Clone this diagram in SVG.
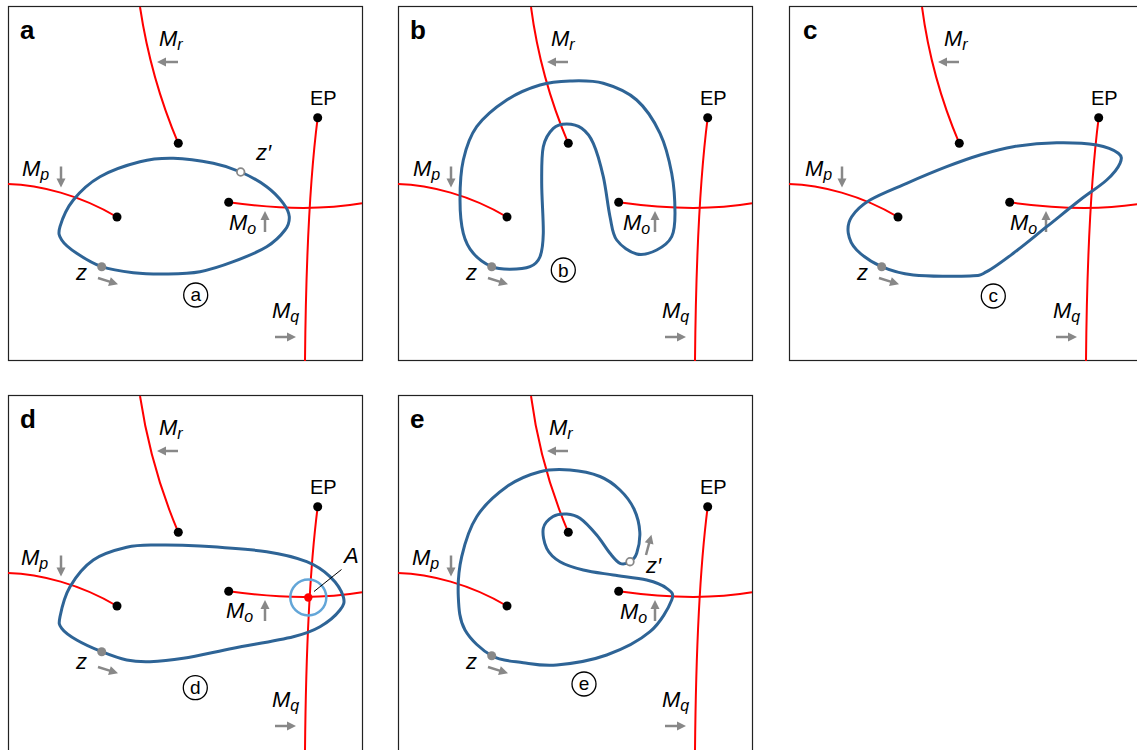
<svg xmlns="http://www.w3.org/2000/svg" xmlns:xlink="http://www.w3.org/1999/xlink" width="1137" height="750" viewBox="0 0 1137 750">
<style>
.frame{fill:none;stroke:#222;stroke-width:1.2}
.red{fill:none;stroke:#ff0000;stroke-width:2}
.loop{fill:none;stroke:#2e6496;stroke-width:3}
.dot{fill:#000}
.gdot{fill:#888}
.hdot{fill:#fff;stroke:#888;stroke-width:1.8}
.lbl{font-family:"Liberation Sans",Arial,sans-serif;font-size:22px;font-style:italic;fill:#000}
.sub{font-size:16px}
.ep{font-family:"Liberation Sans",Arial,sans-serif;font-size:20px;fill:#000}
.pl{font-family:"Liberation Sans",Arial,sans-serif;font-weight:bold;font-size:26px;fill:#000}
.circ{fill:none;stroke:#000;stroke-width:1.3}
.ct{font-family:"Liberation Sans",Arial,sans-serif;font-size:19px;text-anchor:middle;fill:#000}
.arr line{stroke:#888;stroke-width:2.5}
.arr path{fill:#888}
</style>
<defs>
<g id="arr" class="arr"><line x1="0" y1="0" x2="13" y2="0"/><path d="M12,-4.5 L21,0 L12,4.5 Z"/></g>
</defs>
<rect width="1137" height="750" fill="#fff"/>

<!-- Panel a -->
<g id="panel-a">
 <g id="a-base">
  <rect class="frame" x="8.5" y="6.5" width="354" height="354"/>
  <g id="a-curves">
   <path class="red" d="M140,7 C148,60 162,105 178.3,143.3"/>
   <path class="red" d="M8,184 C40,185 80,195 117,217"/>
   <path class="red" d="M228.7,202.3 Q305,213 362,203.3"/>
   <path class="red" d="M317.7,117.7 C311,170 306,250 305,361"/>
  </g>
  <text class="pl" x="20" y="39">a</text>
  <text class="lbl" x="159" y="46">M<tspan class="sub" dy="4">r</tspan></text>
  <text class="ep" x="310" y="105">EP</text>
  <text class="lbl" x="22" y="176">M<tspan class="sub" dy="4">p</tspan></text>
  <text class="lbl" x="229" y="230">M<tspan class="sub" dy="4">o</tspan></text>
  <text class="lbl" x="272" y="318">M<tspan class="sub" dy="4">q</tspan></text>
  <text class="lbl" x="76" y="280">z</text>
  <use xlink:href="#arr" transform="translate(178,62) rotate(180)"/>
  <use xlink:href="#arr" transform="translate(61,166.5) rotate(90)"/>
  <use xlink:href="#arr" transform="translate(265,232) rotate(-90)"/>
  <use xlink:href="#arr" transform="translate(98,278) rotate(17.5)"/>
  <use xlink:href="#arr" transform="translate(275,337)"/>
 </g>
 <path class="loop" d="M60,226.7 C61.93,220.03 66.63,208.33 73.3,200 C79.97,191.67 88.9,183.09 100,176.7 C111.1,170.31 127.8,164.77 140,161.7 C152.2,158.63 161.1,158.03 173.3,158.3 C185.5,158.57 202.1,161.02 213.3,163.3 C224.5,165.58 231.8,168.1 240.7,172 C249.6,175.9 259.6,181.48 266.7,186.7 C273.8,191.92 279.53,198.3 283.3,203.3 C287.07,208.3 289.02,212.25 289.3,216.7 C289.58,221.15 288.77,225 285,230 C281.23,235 275.32,241.42 266.7,246.7 C258.08,251.98 244.4,257.53 233.3,261.7 C222.2,265.87 211.1,269.65 200,271.7 C188.9,273.75 177.8,273.83 166.7,274 C155.6,274.17 144.1,273.92 133.3,272.7 C122.5,271.48 111.13,269.93 101.7,266.7 C92.27,263.47 83.37,257.75 76.7,253.3 C70.03,248.85 64.48,244.43 61.7,240 C58.92,235.57 58.07,233.37 60,226.7 Z"/>
 <circle class="dot" cx="178.3" cy="143.3" r="4.5"/>
 <circle class="dot" cx="117" cy="217" r="4.5"/>
 <circle class="dot" cx="228.7" cy="202.3" r="4.5"/>
 <circle class="dot" cx="317.7" cy="117.7" r="4.5"/>
 <circle class="gdot" cx="101.7" cy="266.7" r="4.5"/>
 <circle class="hdot" cx="240.7" cy="172" r="3.8"/>
 <text class="lbl" x="256" y="160">z′</text>
 <circle class="circ" cx="195.7" cy="295" r="12"/>
 <text class="ct" x="195.7" y="300.5">a</text>
</g>

<!-- Panel b -->
<g id="panel-b">
 <g id="b-base" transform="translate(390,0)">
  <rect class="frame" x="8.5" y="6.5" width="354" height="354"/>
  <g id="b-curves">
   <path class="red" d="M141,7 C148,60 162,105 178.3,143.3"/>
   <path class="red" d="M8,184 C40,185 80,195 117,217"/>
   <path class="red" d="M228.7,202.3 Q305,213 362,203.3"/>
   <path class="red" d="M317.7,117.7 C311,170 306,250 305,361"/>
  </g>
  <text class="pl" x="20" y="39">b</text>
  <text class="lbl" x="161" y="46">M<tspan class="sub" dy="4">r</tspan></text>
  <text class="ep" x="310" y="105">EP</text>
  <text class="lbl" x="23" y="176">M<tspan class="sub" dy="4">p</tspan></text>
  <text class="lbl" x="233" y="230">M<tspan class="sub" dy="4">o</tspan></text>
  <text class="lbl" x="272" y="318">M<tspan class="sub" dy="4">q</tspan></text>
  <text class="lbl" x="76" y="280">z</text>
  <use xlink:href="#arr" transform="translate(178,62) rotate(180)"/>
  <use xlink:href="#arr" transform="translate(61,166.5) rotate(90)"/>
  <use xlink:href="#arr" transform="translate(265,232) rotate(-90)"/>
  <use xlink:href="#arr" transform="translate(98,278) rotate(17.5)"/>
  <use xlink:href="#arr" transform="translate(275,337)"/>
 </g>
 <path class="loop" d="M491.7,266.7 C497.82,269.37 503.62,269.3 510,269.3 C516.38,269.3 525,268.8 530,266.7 C535,264.6 537.78,262.27 540,256.7 C542.22,251.13 543.02,245.53 543.3,233.3 C543.58,221.07 541.7,197.73 541.7,183.3 C541.7,168.87 541.37,155.87 543.3,146.7 C545.23,137.53 549.4,132.08 553.3,128.3 C557.2,124.52 561.97,124 566.7,124 C571.43,124 577.27,125.08 581.7,128.3 C586.13,131.52 589.7,135.23 593.3,143.3 C596.9,151.37 600.52,164.47 603.3,176.7 C606.08,188.93 607.77,206.15 610,216.7 C612.23,227.25 612.25,233.78 616.7,240 C621.15,246.22 630.03,252.33 636.7,254 C643.37,255.67 650.87,252.88 656.7,250 C662.53,247.12 668.65,242.82 671.7,236.7 C674.75,230.58 675,223.87 675,213.3 C675,202.73 674.2,186.63 671.7,173.3 C669.2,159.97 665.83,145.52 660,133.3 C654.17,121.08 646.15,108.33 636.7,100 C627.25,91.67 614.42,86.47 603.3,83.3 C592.18,80.13 580.55,80.72 570,81 C559.45,81.28 550.55,81.83 540,85 C529.45,88.17 517.25,93.05 506.7,100 C496.15,106.95 483.93,116.7 476.7,126.7 C469.47,136.7 466.08,147.78 463.3,160 C460.52,172.22 460,187.78 460,200 C460,212.22 461.08,224.42 463.3,233.3 C465.52,242.18 468.57,247.73 473.3,253.3 C478.03,258.87 485.58,264.03 491.7,266.7 Z"/>
 <circle class="dot" cx="568.3" cy="143.3" r="4.5"/>
 <circle class="dot" cx="507" cy="217" r="4.5"/>
 <circle class="dot" cx="618.7" cy="202.3" r="4.5"/>
 <circle class="dot" cx="707.7" cy="117.7" r="4.5"/>
 <circle class="gdot" cx="491.7" cy="266.7" r="4.5"/>
 <circle class="circ" cx="563.3" cy="270" r="12"/>
 <text class="ct" x="563.3" y="276.8">b</text>
</g>

<!-- Panel c -->
<g id="panel-c">
 <g id="c-base" transform="translate(781,0)">
  <rect class="frame" x="8.5" y="6.5" width="354" height="354"/>
  <g id="c-curves">
   <path class="red" d="M141,7 C148,60 162,105 178.3,143.3"/>
   <path class="red" d="M8,184 C40,185 80,195 117,217"/>
   <path class="red" d="M228.7,202.3 Q305,213 362,203.3"/>
   <path class="red" d="M317.7,117.7 C311,170 306,250 305,361"/>
  </g>
  <text class="pl" x="22" y="39">c</text>
  <text class="lbl" x="163" y="46">M<tspan class="sub" dy="4">r</tspan></text>
  <text class="ep" x="310" y="105">EP</text>
  <text class="lbl" x="24" y="176">M<tspan class="sub" dy="4">p</tspan></text>
  <text class="lbl" x="229" y="230">M<tspan class="sub" dy="4">o</tspan></text>
  <text class="lbl" x="272" y="318">M<tspan class="sub" dy="4">q</tspan></text>
  <text class="lbl" x="76" y="280">z</text>
  <use xlink:href="#arr" transform="translate(178,62) rotate(180)"/>
  <use xlink:href="#arr" transform="translate(61,166.5) rotate(90)"/>
  <use xlink:href="#arr" transform="translate(265,232) rotate(-90)"/>
  <use xlink:href="#arr" transform="translate(98,278) rotate(17.5)"/>
  <use xlink:href="#arr" transform="translate(275,337)"/>
 </g>
 <path class="loop" d="M881.7,266.7 C891.13,270.87 898.58,273.45 913.3,275 C928.02,276.55 957.77,276.55 970,276 C982.23,275.45 979.48,275.48 986.7,271.7 C993.92,267.92 1003.3,260.8 1013.3,253.3 C1023.3,245.8 1035.58,235.58 1046.7,226.7 C1057.82,217.82 1070,207.78 1080,200 C1090,192.22 1100.03,186.12 1106.7,180 C1113.37,173.88 1118.07,167.75 1120,163.3 C1121.93,158.85 1122.18,156.35 1118.3,153.3 C1114.42,150.25 1106.97,146.77 1096.7,145 C1086.43,143.23 1070.6,142.42 1056.7,142.7 C1042.8,142.98 1026.08,144.65 1013.3,146.7 C1000.52,148.75 991.1,151.67 980,155 C968.9,158.33 958.92,161.98 946.7,166.7 C934.48,171.42 919.48,177.75 906.7,183.3 C893.92,188.85 879.17,194.43 870,200 C860.83,205.57 855.32,211.15 851.7,216.7 C848.08,222.25 847.47,227.75 848.3,233.3 C849.13,238.85 851.13,244.43 856.7,250 C862.27,255.57 872.27,262.53 881.7,266.7 Z"/>
 <circle class="dot" cx="959.3" cy="143.3" r="4.5"/>
 <circle class="dot" cx="898" cy="217" r="4.5"/>
 <circle class="dot" cx="1009.7" cy="202.3" r="4.5"/>
 <circle class="dot" cx="1098.7" cy="117.7" r="4.5"/>
 <circle class="gdot" cx="881.7" cy="266.7" r="4.5"/>
 <circle class="circ" cx="993.3" cy="296" r="12"/>
 <text class="ct" x="993.3" y="301.5">c</text>
</g>

<!-- Panel d -->
<g id="panel-d">
 <g id="d-base" transform="translate(0,389)">
  <rect class="frame" x="8.5" y="6.5" width="354" height="362"/>
  <g id="d-curves">
   <path class="red" d="M140,7 C148,60 162,105 178.3,143.3"/>
   <path class="red" d="M8,184 C40,185 80,195 117,217"/>
   <path class="red" d="M228.7,202.3 Q305,213 362,203.3"/>
   <path class="red" d="M317.7,117.7 C311,170 306,250 305,362"/>
  </g>
  <text class="pl" x="20" y="39">d</text>
  <text class="lbl" x="159" y="46">M<tspan class="sub" dy="4">r</tspan></text>
  <text class="ep" x="310" y="105">EP</text>
  <text class="lbl" x="21" y="176">M<tspan class="sub" dy="4">p</tspan></text>
  <text class="lbl" x="226" y="229">M<tspan class="sub" dy="4">o</tspan></text>
  <text class="lbl" x="272" y="318">M<tspan class="sub" dy="4">q</tspan></text>
  <text class="lbl" x="76" y="280">z</text>
  <use xlink:href="#arr" transform="translate(178,62) rotate(180)"/>
  <use xlink:href="#arr" transform="translate(61,166.5) rotate(90)"/>
  <use xlink:href="#arr" transform="translate(265,232) rotate(-90)"/>
  <use xlink:href="#arr" transform="translate(98,278) rotate(17.5)"/>
  <use xlink:href="#arr" transform="translate(275,337)"/>
 </g>
 <path class="loop" d="M60,616.7 C61.38,609.77 64.45,596.15 70,586.7 C75.55,577.25 83.85,566.57 93.3,560 C102.75,553.43 116.13,549.8 126.7,547.3 C137.27,544.8 144.48,545.22 156.7,545 C168.92,544.78 181.67,544.88 200,546 C218.33,547.12 248.92,549.08 266.7,551.7 C284.48,554.32 296.15,557.53 306.7,561.7 C317.25,565.87 323.9,570.87 330,576.7 C336.1,582.53 341.63,591.15 343.3,596.7 C344.97,602.25 343.88,605 340,610 C336.12,615 327.78,622.25 320,626.7 C312.22,631.15 307.75,633.1 293.3,636.7 C278.85,640.3 251.63,644.7 233.3,648.3 C214.97,651.9 197.18,656.07 183.3,658.3 C169.42,660.53 159.43,661.42 150,661.7 C140.57,661.98 134.75,661.67 126.7,660 C118.65,658.33 110.03,655.03 101.7,651.7 C93.37,648.37 83.37,643.9 76.7,640 C70.03,636.1 64.48,632.18 61.7,628.3 C58.92,624.42 58.62,623.63 60,616.7 Z"/>
 <circle cx="308.3" cy="597.5" r="18" fill="none" stroke="#63a6d8" stroke-width="2.5"/>
 <line x1="314" y1="591.5" x2="341.5" y2="569.5" stroke="#000" stroke-width="1"/>
 <circle cx="308.3" cy="597.5" r="4.2" fill="#ff0000"/>
 <text class="lbl" x="344" y="563">A</text>
 <circle class="dot" cx="178.3" cy="532.3" r="4.5"/>
 <circle class="dot" cx="117" cy="606" r="4.5"/>
 <circle class="dot" cx="228.7" cy="591.3" r="4.5"/>
 <circle class="dot" cx="317.7" cy="506.7" r="4.5"/>
 <circle class="gdot" cx="101.7" cy="651.7" r="4.5"/>
 <circle class="circ" cx="195.3" cy="687.7" r="12"/>
 <text class="ct" x="195.3" y="694">d</text>
</g>

<!-- Panel e -->
<g id="panel-e">
 <g id="e-base" transform="translate(390,389)">
  <rect class="frame" x="8.5" y="6.5" width="354" height="362"/>
  <g id="e-curves">
   <path class="red" d="M141,7 C148,60 162,105 178.3,143.3"/>
   <path class="red" d="M8,184 C40,185 80,195 117,217"/>
   <path class="red" d="M228.7,202.3 Q305,213 362,203.3"/>
   <path class="red" d="M317.7,117.7 C311,170 306,250 305,362"/>
  </g>
  <text class="pl" x="20" y="39">e</text>
  <text class="lbl" x="159" y="46">M<tspan class="sub" dy="4">r</tspan></text>
  <text class="ep" x="310" y="105">EP</text>
  <text class="lbl" x="22" y="176">M<tspan class="sub" dy="4">p</tspan></text>
  <text class="lbl" x="230" y="230">M<tspan class="sub" dy="4">o</tspan></text>
  <text class="lbl" x="272" y="318">M<tspan class="sub" dy="4">q</tspan></text>
  <text class="lbl" x="76" y="280">z</text>
  <use xlink:href="#arr" transform="translate(178,62) rotate(180)"/>
  <use xlink:href="#arr" transform="translate(61,166.5) rotate(90)"/>
  <use xlink:href="#arr" transform="translate(265,232) rotate(-90)"/>
  <use xlink:href="#arr" transform="translate(98,278) rotate(17.5)"/>
  <use xlink:href="#arr" transform="translate(275,337)"/>
 </g>
 <path class="loop" d="M491.7,655.7 C501.42,661.15 512.47,661.15 523.3,662.7 C534.13,664.25 542.8,666.28 556.7,665 C570.6,663.72 591.15,660.55 606.7,655 C622.25,649.45 639.17,640.87 650,631.7 C660.83,622.53 668.92,607.23 671.7,600 C674.48,592.77 670.87,591.63 666.7,588.3 C662.53,584.97 655.6,582.22 646.7,580 C637.8,577.78 623.87,576.67 613.3,575 C602.73,573.33 592.18,572.22 583.3,570 C574.42,567.78 566.1,565.32 560,561.7 C553.9,558.08 549.48,553.87 546.7,548.3 C543.92,542.73 542.25,533.6 543.3,528.3 C544.35,523 549.1,518.88 553,516.5 C556.9,514.12 562.2,513.7 566.7,514 C571.2,514.3 575,514.8 580,518.3 C585,521.8 591.7,529.17 596.7,535 C601.7,540.83 606.12,548.58 610,553.3 C613.88,558.02 616.67,561.9 620,563.3 C623.33,564.7 627.22,563.37 630,561.7 C632.78,560.03 635.07,558.25 636.7,553.3 C638.33,548.35 640.25,539.38 639.8,532 C639.35,524.62 637.3,516 634,509 C630.7,502 625.67,495.42 620,490 C614.33,484.58 608.33,479.83 600,476.5 C591.67,473.17 580,470.8 570,470 C560,469.2 550.55,468.92 540,471.7 C529.45,474.48 517.25,479.2 506.7,486.7 C496.15,494.2 484.2,505.03 476.7,516.7 C469.2,528.37 464.77,543.37 461.7,556.7 C458.63,570.03 457.75,584.48 458.3,596.7 C458.85,608.92 459.43,620.17 465,630 C470.57,639.83 481.98,650.25 491.7,655.7 Z"/>
 <circle class="dot" cx="568.3" cy="532.3" r="4.5"/>
 <circle class="dot" cx="507" cy="606" r="4.5"/>
 <circle class="dot" cx="618.7" cy="591.3" r="4.5"/>
 <circle class="dot" cx="707.7" cy="506.7" r="4.5"/>
 <circle class="gdot" cx="491.7" cy="655.7" r="4.5"/>
 <circle class="hdot" cx="630" cy="561.7" r="3.8"/>
 <use xlink:href="#arr" transform="translate(646,555) rotate(-75)"/>
 <text class="lbl" x="646" y="573">z′</text>
 <circle class="circ" cx="584" cy="684" r="12"/>
 <text class="ct" x="584" y="689.5">e</text>
</g>
</svg>
